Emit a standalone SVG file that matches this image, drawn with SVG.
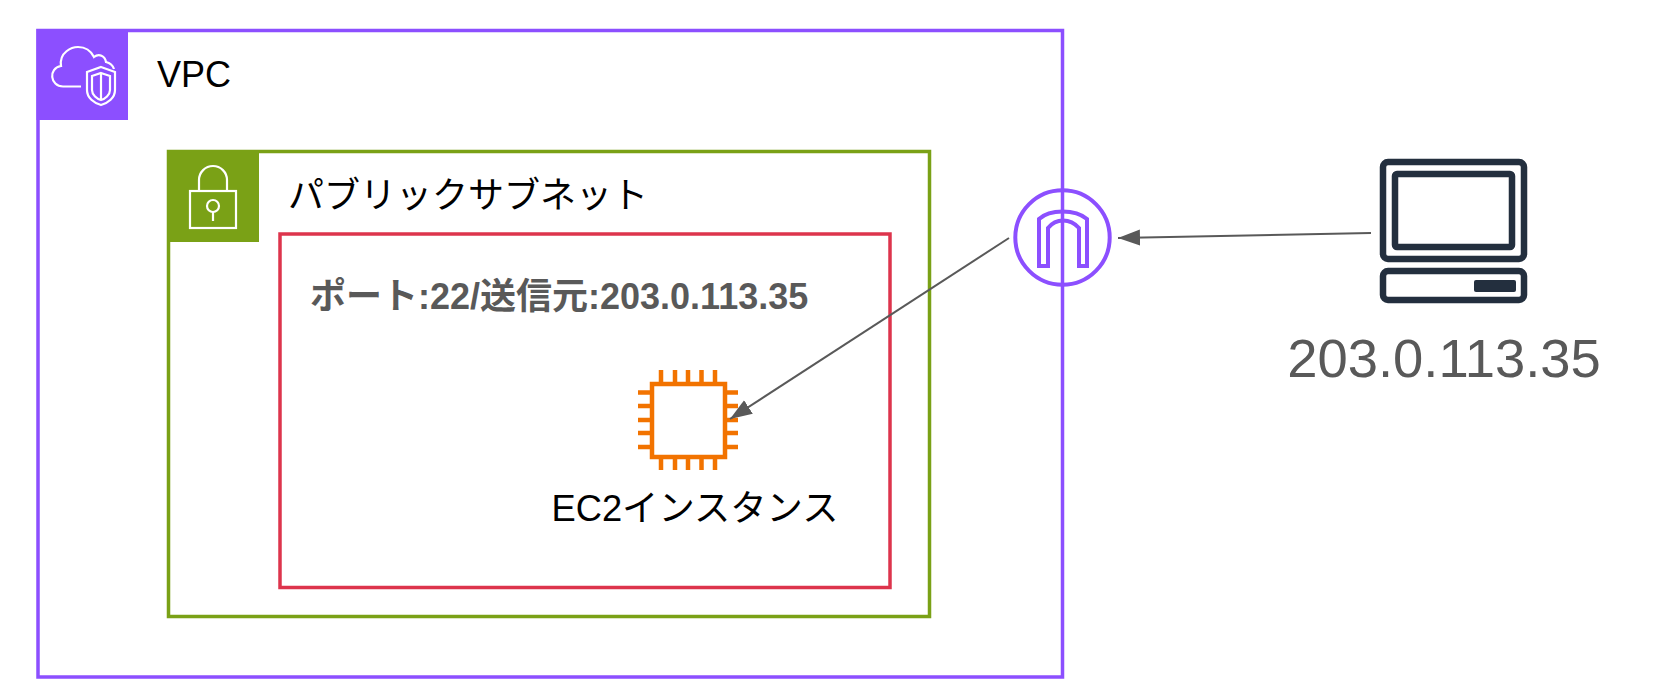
<svg xmlns="http://www.w3.org/2000/svg" width="1656" height="700" viewBox="0 0 1656 700">
<style>
text{font-family:"Liberation Sans","Noto Sans CJK JP",sans-serif}
.b{fill:none;stroke-width:3.5}
.w{fill:none;stroke:#fff;stroke-width:2.2}
.v{fill:none;stroke:#8c4fff;stroke-width:4}
.c{fill:none;stroke:#232f3e;stroke-width:6.5}
.o{fill:none;stroke:#f27300;stroke-width:4.5}
.l{fill:none;stroke:#595959;stroke-width:2}
</style>
<defs><marker id="a" markerUnits="userSpaceOnUse" markerWidth="24" markerHeight="18" refX="22" refY="8" orient="auto"><path d="M0 0L22 8L0 16Z" fill="#595959"/></marker></defs>
<rect width="1656" height="700" fill="#fff"/>
<g id="vpc">
<rect class="b" x="38" y="30.500" width="1024.500" height="646.500" stroke="#8c4fff"/>
<rect x="36.500" y="29" width="91.500" height="91" fill="#8c4fff"/>
<path class="w" d="M81 86.500H63C50 86.500 48 68 61 66C59 52 72 47 78 47C85 47 91 51 94 57C99 53 105 56 106 62C110 63 113 66 114 69"/>
<path class="w" d="M101 67L115 72V90C115 98 108 103 101 105C94 103 87 98 87 90V72Z"/>
<path class="w" d="M101 73L110 76V90C110 95 105 99 101 100C97 99 92 95 92 90V76ZM101 73V100"/>
<text x="157" y="87" font-size="36">VPC</text>
</g>
<g id="subnet">
<rect class="b" x="168.500" y="151.500" width="761" height="465" stroke="#7aa116"/>
<rect x="167" y="150" width="92" height="92" fill="#7aa116"/>
<rect class="w" x="190" y="191" width="46" height="37"/>
<path class="w" d="M199 191V180A14 14 0 0 1 227 180V191"/>
<circle class="w" cx="213" cy="206" r="6"/>
<path class="w" d="M213 212V221"/>
<text x="288" y="208" font-size="36">パブリックサブネット</text>
</g>
<g id="sg">
<rect class="b" x="280" y="234" width="610" height="353.500" stroke="#dd344c"/>
<text x="310" y="309" font-size="36" font-weight="bold" fill="#595959">ポート:22/送信元:203.0.113.35</text>
</g>
<g id="ec2">
<rect class="o" x="652" y="384" width="73" height="73"/>
<path class="o" d="M661 370V384M675 370V384M688 370V384M701.500 370V384M715 370V384M661 457V470M675 457V470M688 457V470M701.500 457V470M715 457V470M638 392.500H652M638 406H652M638 420H652M638 433H652M638 447H652M725 392.500H738M725 406H738M725 420H738M725 433H738M725 447H738"/>
<text x="695" y="521" font-size="36.300" text-anchor="middle">EC2インスタンス</text>
</g>
<g id="igw">
<circle class="v" cx="1062.500" cy="237.500" r="47.200"/>
<path class="v" d="M1039 266V219C1050 209 1075 209 1087 219V266H1079V228C1070 218 1056 218 1048 228V266Z"/>
</g>
<g id="client">
<rect class="c" x="1383" y="162" width="141" height="97" rx="5"/>
<rect class="c" x="1395" y="174" width="117" height="73" rx="2"/>
<rect class="c" x="1383" y="271" width="141" height="29" rx="5"/>
<rect x="1474" y="280" width="42" height="12" rx="2" fill="#232f3e"/>
<text x="1444" y="377" font-size="54.400" text-anchor="middle" fill="#595959">203.0.113.35</text>
</g>
<g id="connectors">
<path class="l" d="M1371 233L1118 238" marker-end="url(#a)"/>
<path class="l" d="M1009 238L730 419" marker-end="url(#a)"/>
</g>
</svg>
